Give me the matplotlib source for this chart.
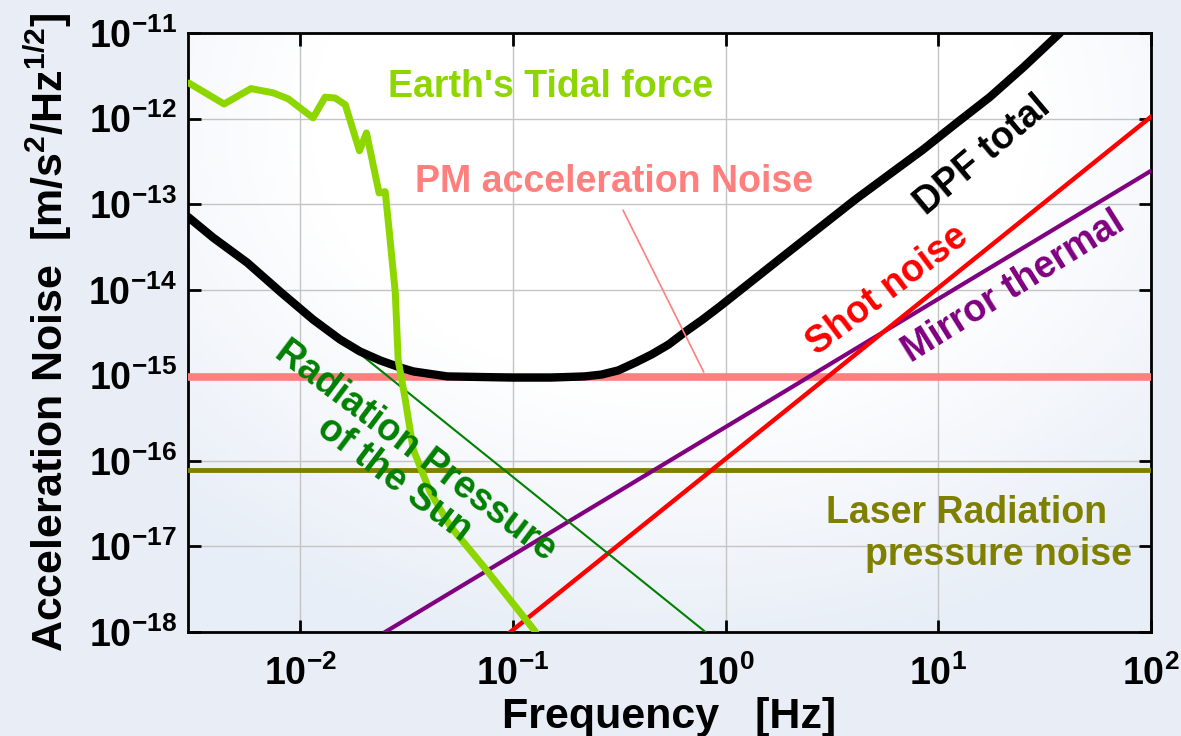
import numpy as np
import matplotlib
matplotlib.use("Agg")
import matplotlib.pyplot as plt
from matplotlib.colors import LinearSegmentedColormap

plt.rcParams['font.family'] = ['Liberation Sans', 'DejaVu Sans']
plt.rcParams['font.weight'] = 'bold'
plt.rcParams['mathtext.fontset'] = 'custom'
plt.rcParams['mathtext.rm'] = 'Liberation Sans:bold'
plt.rcParams['mathtext.bf'] = 'Liberation Sans:bold'
plt.rcParams['mathtext.default'] = 'bf'

# Earth's tidal force
tidal_f = [3.0e-3, 4.39e-3, 5.87e-3, 7.46e-3, 8.79e-3, 1.15e-2, 1.31e-2, 1.46e-2,
           1.63e-2, 1.90e-2, 2.05e-2, 2.35e-2, 2.51e-2, 2.62e-2, 2.80e-2, 2.89e-2,
           3.12e-2, 3.40e-2, 4.09e-2, 5.08e-2, 7.26e-2, 1.28e-1]
tidal_a = [2.6e-12, 1.48e-12, 2.24e-12, 2.0e-12, 1.70e-12, 1.02e-12, 1.78e-12, 1.74e-12,
           1.45e-12, 4.2e-13, 6.8e-13, 1.35e-13, 1.40e-13, 5.0e-14, 9.3e-15, 1.5e-15,
           5.2e-16, 1.36e-16, 4.3e-17, 1.72e-17, 5.9e-18, 1.0e-18]

# DPF total
dpf_f = [2.97e-3, 3.90e-3, 5.64e-3, 8.05e-3, 1.15e-2, 1.54e-2, 1.91e-2, 2.38e-2,
         2.96e-2, 3.40e-2, 4.92e-2, 0.100, 0.150, 0.217, 0.261, 0.313, 0.377, 0.449,
         0.540, 0.649, 0.780, 0.938, 1.355, 1.96, 2.80, 4.05, 5.85, 8.45, 12.2, 17.5,
         25.2, 37.3]
dpf_a = [7.1e-14, 4.06e-14, 2.07e-14, 9.5e-15, 4.48e-15, 2.62e-15, 1.90e-15, 1.49e-15,
         1.23e-15, 1.11e-15, 9.7e-16, 9.4e-16, 9.4e-16, 9.7e-16, 1.02e-15, 1.14e-15,
         1.41e-15, 1.75e-15, 2.29e-15, 3.24e-15, 4.48e-15, 6.35e-15, 1.31e-14, 2.71e-14,
         5.44e-14, 1.12e-13, 2.20e-13, 4.31e-13, 8.9e-13, 1.79e-12, 4.0e-12, 1.0e-11]

# straight components (end points)
sun_f = [1.76e-2, 0.805]
sun_a = [2.1e-15, 1.0e-18]
shot_f = [0.0973, 100]
shot_a = [1.0e-18, 1.05e-12]
thermal_f = [0.0251, 100]
thermal_a = [1.0e-18, 2.45e-13]
pm_f = [2.97e-3, 100]
pm_a = [9.5e-16, 9.5e-16]
laser_f = [2.97e-3, 100]
laser_a = [7.9e-17, 7.9e-17]

xticks = [1e-2, 1e-1, 1e0, 1e1, 1e2]
xticklabels = [r'$10^{-2}$', r'$10^{-1}$', r'$10^{0}$', r'$10^{1}$', r'$10^{2}$']
yticks = [1e-18, 1e-17, 1e-16, 1e-15, 1e-14, 1e-13, 1e-12, 1e-11]
yticklabels = [r'$10^{-18}$', r'$10^{-17}$', r'$10^{-16}$', r'$10^{-15}$',
               r'$10^{-14}$', r'$10^{-13}$', r'$10^{-12}$', r'$10^{-11}$']

fig = plt.figure(figsize=(11.81, 7.36), dpi=100, facecolor='#e9eef6')
ax = fig.add_axes([188 / 1181, 1 - 632 / 736, 963 / 1181, 599 / 736])

# soft background inside the axes
yy, xx = np.mgrid[0:1:200j, 0:1:300j]
r = np.sqrt(((xx - 0.5) / 0.75) ** 2 + ((yy - 0.85) / 0.9) ** 2)
bg_cmap = LinearSegmentedColormap.from_list('bg', ['#ffffff', '#ffffff', '#e8eef7'])
ax.imshow(np.clip(r, 0, 1), cmap=bg_cmap, extent=[0, 1, 0, 1], origin='lower',
          transform=ax.transAxes, aspect='auto', zorder=0, vmin=0, vmax=1)

ax.set_xscale('log')
ax.set_yscale('log')
ax.set_xlim(2.97e-3, 100)
ax.set_ylim(1e-18, 1e-11)

ax.plot(pm_f, pm_a, color='#ff7f7f', lw=5.5, solid_capstyle='round', zorder=3)
ax.plot(laser_f, laser_a, color='#808000', lw=3.5, zorder=3)
ax.plot(thermal_f, thermal_a, color='#800080', lw=3, zorder=4)
ax.plot(shot_f, shot_a, color='#ff0000', lw=3.2, zorder=4)
ax.plot(sun_f, sun_a, color='#008000', lw=1.5, zorder=4)
ax.plot(dpf_f, dpf_a, color='black', lw=6, solid_capstyle='round',
        solid_joinstyle='round', zorder=5)
ax.plot(tidal_f, tidal_a, color='#8ed600', lw=5, solid_capstyle='round', zorder=6)

ax.set_xticks(xticks)
ax.set_xticklabels(xticklabels)
ax.set_yticks(yticks)
ax.set_yticklabels(yticklabels)
ax.minorticks_off()
ax.tick_params(which='major', direction='in', length=9, width=2, labelsize=27,
               top=True, right=True, pad=8)
ax.tick_params(axis='x', pad=17)
for s in ax.spines.values():
    s.set_linewidth(2)
ax.grid(True, color='#c4c4c4', lw=1)
ax.set_axisbelow(True)

ax.set_xlabel('Frequency   [Hz]', fontsize=31, fontweight='bold', labelpad=3)
ax.set_ylabel(r'Acceleration Noise  [m/s$^{2}$/Hz$^{1/2}$]', fontsize=31,
              fontweight='bold', labelpad=10)

tk = dict(fontsize=27, fontweight='bold', zorder=8)
ax.text(0.376, 0.910, "Earth's Tidal force", color='#8ed600', ha='center', va='center',
        transform=ax.transAxes, **tk)
ax.text(0.442, 0.751, 'PM acceleration Noise', color='#ff7f7f', ha='center', va='center',
        transform=ax.transAxes, **tk)
ax.annotate('', xy=(0.80, 1.02e-15), xytext=(0.325, 9.1e-14),
            arrowprops=dict(arrowstyle='-', color='#ff7f7f', lw=1.2), zorder=7)
ax.text(0.825, 0.795, 'DPF total', color='black', ha='center', va='center', rotation=40,
        rotation_mode='anchor', transform=ax.transAxes, **tk)
ax.text(0.726, 0.571, 'Shot noise', color='#ff0000', ha='center', va='center', rotation=37,
        rotation_mode='anchor', transform=ax.transAxes, **tk)
ax.text(0.857, 0.576, 'Mirror thermal', color='#800080', ha='center', va='center',
        rotation=32, rotation_mode='anchor', transform=ax.transAxes, **tk)
ax.text(0.225, 0.279, 'Radiation Pressure\nof the Sun', color='#008000', ha='center',
        va='center', rotation=-37, rotation_mode='anchor', multialignment='center',
        linespacing=1.0, transform=ax.transAxes, **tk)
ax.text(0.808, 0.199, 'Laser Radiation', color='#808000', ha='center', va='center',
        transform=ax.transAxes, **tk)
ax.text(0.842, 0.129, 'pressure noise', color='#808000', ha='center', va='center',
        transform=ax.transAxes, **tk)

plt.savefig('out.png', dpi=100, facecolor=fig.get_facecolor())
